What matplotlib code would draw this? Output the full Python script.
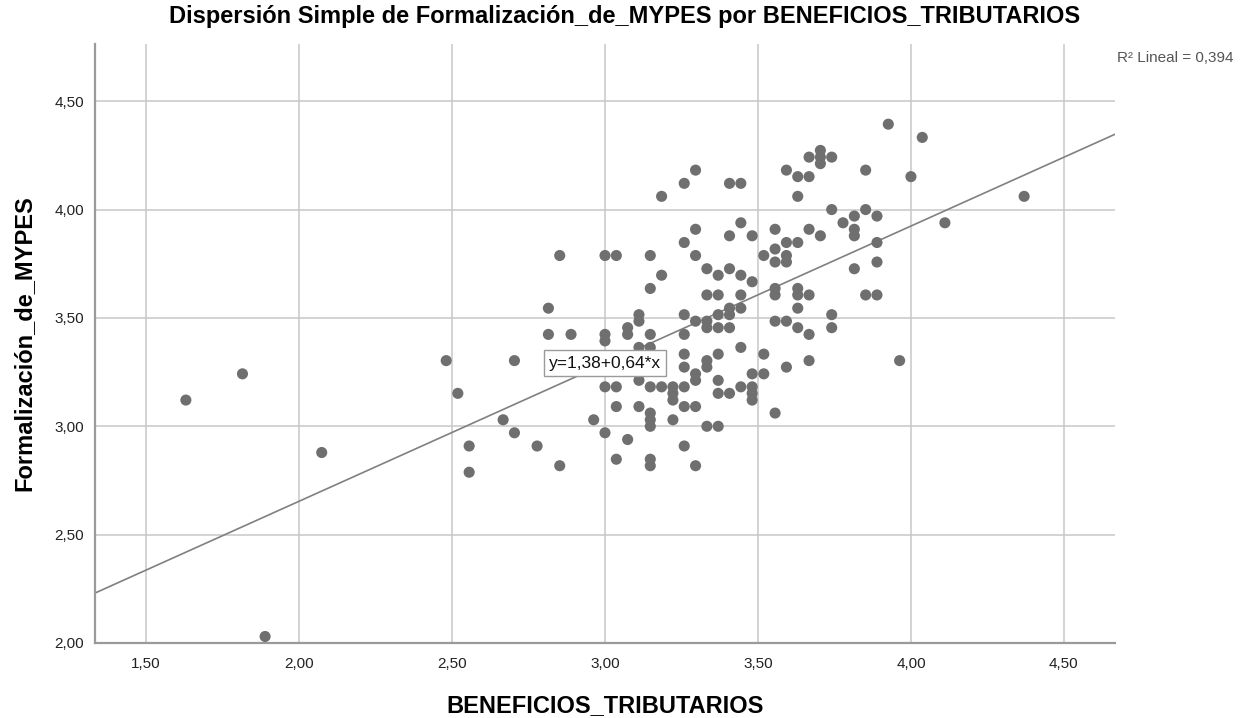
import matplotlib
matplotlib.use("Agg")
import matplotlib.pyplot as plt
import numpy as np

plt.rcParams["font.family"] = ["Liberation Sans", "DejaVu Sans"]

# BENEFICIOS_TRIBUTARIOS (x) and Formalizacion_de_MYPES (y)
ben = [1.630, 1.815, 1.889, 2.074, 2.481, 2.519, 2.556, 2.556, 2.667, 2.704,
       2.704, 2.778, 2.815, 2.815, 2.852, 2.852, 2.889, 2.963,
       3.000, 3.000, 3.000, 3.000, 3.000,
       3.037, 3.037, 3.037, 3.037,
       3.074, 3.074, 3.074,
       3.111, 3.111, 3.111, 3.111, 3.111,
       3.148, 3.148, 3.148, 3.148, 3.148, 3.148, 3.148, 3.148, 3.148, 3.148,
       3.185, 3.185, 3.185,
       3.222, 3.222, 3.222, 3.222,
       3.259, 3.259, 3.259, 3.259, 3.259, 3.259, 3.259, 3.259, 3.259,
       3.296, 3.296, 3.296, 3.296, 3.296, 3.296, 3.296, 3.296,
       3.333, 3.333, 3.333, 3.333, 3.333, 3.333, 3.333,
       3.370, 3.370, 3.370, 3.370, 3.370, 3.370, 3.370, 3.370,
       3.407, 3.407, 3.407, 3.407, 3.407, 3.407, 3.407,
       3.444, 3.444, 3.444, 3.444, 3.444, 3.444, 3.444,
       3.481, 3.481, 3.481, 3.481, 3.481, 3.481,
       3.519, 3.519, 3.519,
       3.556, 3.556, 3.556, 3.556, 3.556, 3.556, 3.556,
       3.593, 3.593, 3.593, 3.593, 3.593, 3.593,
       3.630, 3.630, 3.630, 3.630, 3.630, 3.630, 3.630,
       3.667, 3.667, 3.667, 3.667, 3.667, 3.667,
       3.704, 3.704, 3.704, 3.704,
       3.741, 3.741, 3.741, 3.741,
       3.778,
       3.815, 3.815, 3.815, 3.815,
       3.852, 3.852, 3.852,
       3.889, 3.889, 3.889, 3.889,
       3.926, 3.963, 4.000, 4.037, 4.111, 4.370]

form = [3.121, 3.242, 2.030, 2.879, 3.303, 3.152, 2.909, 2.788, 3.030, 3.303,
        2.970, 2.909, 3.545, 3.424, 3.788, 2.818, 3.424, 3.030,
        3.788, 3.424, 3.394, 3.182, 2.970,
        3.788, 3.182, 3.091, 2.848,
        3.455, 3.424, 2.939,
        3.515, 3.485, 3.364, 3.212, 3.091,
        3.788, 3.636, 3.424, 3.364, 3.182, 3.061, 3.030, 3.000, 2.848, 2.818,
        4.061, 3.697, 3.182,
        3.182, 3.152, 3.121, 3.030,
        4.121, 3.848, 3.515, 3.424, 3.333, 3.273, 3.182, 3.091, 2.909,
        4.182, 3.909, 3.788, 3.485, 3.242, 3.212, 3.091, 2.818,
        3.727, 3.606, 3.485, 3.455, 3.303, 3.273, 3.000,
        3.697, 3.606, 3.515, 3.455, 3.333, 3.212, 3.152, 3.000,
        4.121, 3.879, 3.727, 3.545, 3.515, 3.455, 3.152,
        4.121, 3.939, 3.697, 3.606, 3.545, 3.364, 3.182,
        3.879, 3.667, 3.242, 3.182, 3.152, 3.121,
        3.788, 3.333, 3.242,
        3.909, 3.818, 3.758, 3.636, 3.606, 3.485, 3.061,
        4.182, 3.848, 3.788, 3.758, 3.485, 3.273,
        4.152, 4.061, 3.848, 3.636, 3.606, 3.545, 3.455,
        4.242, 4.152, 3.909, 3.606, 3.424, 3.303,
        4.273, 4.242, 4.212, 3.879,
        4.242, 4.000, 3.515, 3.455,
        3.939,
        3.970, 3.909, 3.879, 3.727,
        4.182, 4.000, 3.606,
        3.970, 3.848, 3.758, 3.606,
        4.394, 3.303, 4.152, 4.333, 3.939, 4.061]

# fit line as shown on the chart
intercept = 1.384
slope = 0.635
r2 = 0.394

xticks = [1.5, 2.0, 2.5, 3.0, 3.5, 4.0, 4.5]
yticks = [2.0, 2.5, 3.0, 3.5, 4.0, 4.5]
xlim = (1.333, 4.667)
ylim = (2.0, 4.764)


def coma(v):
    return f"{v:.2f}".replace(".", ",")


fig = plt.figure(figsize=(12.56, 7.18), dpi=100)
ax = fig.add_axes([95 / 1256, 1 - 643 / 718, 1020 / 1256, 599 / 718])

ax.set_xlim(*xlim)
ax.set_ylim(*ylim)
ax.set_xticks(xticks)
ax.set_yticks(yticks)
ax.set_xticklabels([coma(v) for v in xticks])
ax.set_yticklabels([coma(v) for v in yticks])
ax.tick_params(length=0, labelsize=11, colors="#222222")
ax.tick_params(axis="x", pad=10)
ax.tick_params(axis="y", pad=8)

ax.grid(True, color="#c8c8c8", lw=1.1)
ax.set_axisbelow(True)
for s in ["top", "right"]:
    ax.spines[s].set_visible(False)
for s in ["left", "bottom"]:
    ax.spines[s].set_color("#9a9a9a")
    ax.spines[s].set_linewidth(1.6)

ax.scatter(ben, form, s=64, color="#6f6f6f", edgecolors="none", zorder=3)

xx = np.array(xlim)
ax.plot(xx, intercept + slope * xx, color="#808080", lw=1.2, zorder=2)

ax.text(3.0, 3.292, "y=1,38+0,64*x", ha="center", va="center", fontsize=12.5,
        color="#111111", zorder=4,
        bbox=dict(boxstyle="square,pad=0.3", fc="white", ec="#9a9a9a", lw=1.0))

fig.text(1117 / 1256, 1 - 58 / 718, f"R² Lineal = {r2:.3f}".replace(".", ","),
         fontsize=11, color="#555555", va="center", ha="left")

fig.text(625 / 1256, 1 - 17 / 718,
         "Dispersión Simple de Formalización_de_MYPES por BENEFICIOS_TRIBUTARIOS",
         fontsize=17, fontweight="bold", ha="center", va="center")
fig.text(605 / 1256, 1 - 706 / 718, "BENEFICIOS_TRIBUTARIOS",
         fontsize=17, fontweight="bold", ha="center", va="center")
fig.text(24 / 1256, 1 - 343 / 718, "Formalización_de_MYPES",
         fontsize=17, fontweight="bold", ha="center", va="center", rotation=90)

fig.savefig("out.png", dpi=100)
